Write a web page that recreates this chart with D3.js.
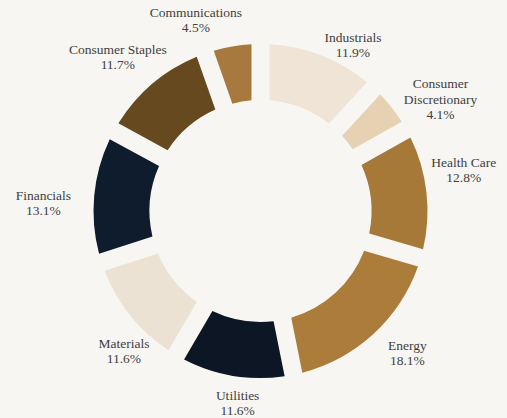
<!DOCTYPE html>
<html>
<head>
<meta charset="utf-8">
<script src="https://cdn.jsdelivr.net/npm/d3@7"></script>
<style>
  html, body { margin: 0; padding: 0; background: #f8f6f2; }
  svg { display: block; }
  text { font-family: "Liberation Serif", "DejaVu Serif", serif; font-size: 13.5px; fill: #404040; }
</style>
</head>
<body>
<svg id="chart" width="507" height="418"></svg>
<script>
// ---- data ----
const categories = ["Industrials", "Consumer Discretionary", "Health Care", "Energy", "Utilities", "Materials", "Financials", "Consumer Staples", "Communications"];
const labelLines = [["Industrials"], ["Consumer", "Discretionary"], ["Health Care"], ["Energy"], ["Utilities"], ["Materials"], ["Financials"], ["Consumer Staples"], ["Communications"]];
const weights = [11.9, 4.1, 12.8, 18.1, 11.6, 11.6, 13.1, 11.7, 4.5];
const colors = ["#efe4d5", "#e6d1b2", "#a77938", "#ab7c3a", "#0c1624", "#ece2d4", "#0f1c2d", "#66491f", "#a8793e"];

// ---- layout ----
const W = 507, H = 418;
const cx = 260.5, cy = 211;
const rOuter = 167, rInner = 111;
const labelR = 200;
const lineH = 15.5;
// hand-placement offsets of each label block relative to its radial anchor
const labelNudge = [[19.6, 20.7], [23, 12.6], [4.5, -18.2], [11.6, -4.7], [10, -4.6], [19.3, 15.3], [-18, 10.9], [-13.1, -1.2], [-31, 6.8]];

const data = categories.map((c, i) => ({ name: c, value: weights[i], i }));

const pie = d3.pie().value(d => d.value).sort(null).padAngle(0.09);
const arcs = pie(data);
const arc = d3.arc().innerRadius(rInner).outerRadius(rOuter);
const labelArc = d3.arc().innerRadius(labelR).outerRadius(labelR);

const svg = d3.select("#chart");
svg.append("rect").attr("width", W).attr("height", H).attr("fill", "#f8f6f2");
const g = svg.append("g").attr("transform", `translate(${cx},${cy})`);

g.selectAll("path.slice")
  .data(arcs)
  .join("path")
  .attr("class", "slice")
  .attr("d", arc)
  .attr("fill", d => colors[d.data.i]);

const fmt = d3.format(".1f");
g.selectAll("text.lbl")
  .data(arcs)
  .join("text")
  .attr("class", "lbl")
  .attr("text-anchor", "middle")
  .each(function(d) {
    const [x0, y0] = labelArc.centroid(d);
    const [nx, ny] = labelNudge[d.data.i];
    const x = x0 + nx, y = y0 + ny;
    const lines = labelLines[d.data.i].concat([fmt(d.data.value) + "%"]);
    const n = lines.length;
    const sel = d3.select(this);
    lines.forEach((t, k) => {
      sel.append("tspan")
        .attr("x", x)
        .attr("y", y - (n - 1) * lineH / 2 + k * lineH + 4)
        .text(t);
    });
  });
</script>
</body>
</html>
